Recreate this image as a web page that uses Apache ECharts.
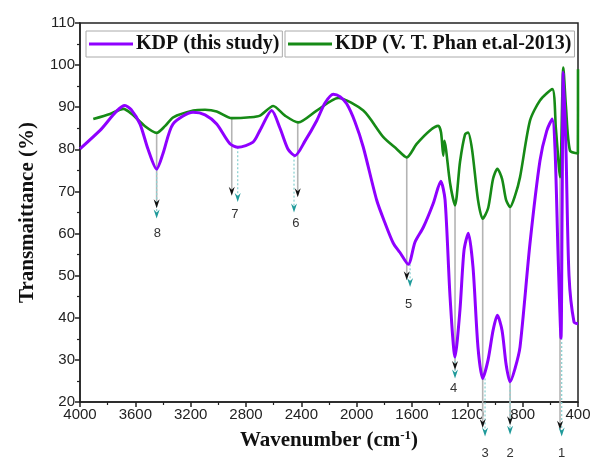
<!DOCTYPE html>
<html>
<head>
<meta charset="utf-8">
<script src="https://cdn.jsdelivr.net/npm/echarts@6/dist/echarts.min.js"></script>
<style>
  html, body { margin: 0; padding: 0; background: #fff; }
  #chart { width: 595px; height: 464px; }
</style>
</head>
<body>
<div id="chart"></div>
<script>
// KDP (this study) - purple
const studyWn = [4000, 3855, 3675, 3631, 3566, 3508, 3446, 3400, 3328, 3183, 3096, 3012, 2916, 2858, 2749, 2699,
  2614, 2554, 2496, 2446, 2373, 2289, 2229, 2169, 2120, 2072, 2012, 1952, 1855, 1795, 1735, 1687, 1627, 1578,
  1518, 1446, 1392, 1361, 1325, 1289, 1253, 1224, 1193, 1159, 1123, 1089, 1050, 1014, 983, 949, 920, 891, 855,
  819, 747, 675, 626, 586, 566, 544, 523, 515, 506, 487, 465, 429, 400];
const studyT = [80.1, 84.5, 90.4, 89.5, 86, 80, 75.3, 79, 86, 88.8, 88.2, 86, 81.3, 80.5, 81.7, 84.5,
  89.2, 85, 80, 78.5, 82, 86.8, 91, 93.1, 92.5, 90.8, 86.5, 80.5, 67.9, 62.5, 57.7, 55.5, 52.7, 58,
  61.5, 67.2, 72.4, 68, 45, 30.7, 42, 56, 60.1, 52, 33, 25.6, 30, 37, 40.6, 37, 29, 24.8, 28,
  33.1, 57.7, 77.3, 84.4, 87.2, 80, 55, 35.2, 65, 98.3, 80, 50, 39, 38.6];

// KDP (V. T. Phan et.al-2013) - green
const phanWn = [3904, 3783, 3687, 3626, 3530, 3446, 3386, 3326, 3181, 3096, 3012, 2903, 2771, 2699, 2603, 2518,
  2422, 2289, 2133, 1952, 1807, 1711, 1638, 1566, 1470, 1410, 1390, 1374, 1366, 1354, 1325, 1289, 1253, 1217,
  1195, 1166, 1123, 1089, 1050, 1014, 983, 949, 920, 891, 855, 819, 747, 675, 586, 560, 530, 506, 487, 458,
  401, 400];
const phanT = [87.2, 88.4, 89.6, 88.4, 85.5, 83.9, 85.5, 87.6, 89.2, 89.4, 89.0, 87.4, 87.6, 88.0, 90.3, 88,
  86.4, 89.2, 92.2, 89.2, 82.9, 80.1, 78.1, 81.3, 84.5, 85.6, 84, 78.5, 82, 80, 72, 66.7, 77, 83.5,
  84, 80, 68, 63.5, 66, 73, 75.4, 73, 68, 66.3, 69, 73.4, 86.8, 91.6, 94.3, 85, 73.4, 99.4, 90, 79.7,
  79, 99];

// peak markers
const peakLabels = ['1', '2', '3', '4', '5', '6', '7', '8'];
const grayWn = [530, 891, 1089, 1289, 1638, 2426, 2903, 3446];
const grayTop = [73.4, 66.3, 63.5, 66.7, 78.1, 86.4, 87.4, 83.9];
const grayEnd = [13.4, 14.5, 13.8, 27.6, 48.9, 68.6, 69, 66];
const cyanWn = [518, 891, 1072, 1289, 1614, 2453, 2860, 3446];
const cyanTop = [35.2, 24.8, 25.6, 30.7, 52.7, 78.5, 80.5, 75.3];
const cyanEnd = [11.8, 12.2, 11.8, 25.6, 47.3, 65, 67.5, 63.6];
const labelWn = [518, 891, 1072, 1300, 1625, 2440, 2880, 3440];
const labelT = [7.7, 7.9, 7.9, 23.2, 43.2, 62.3, 64.5, 60.1];

const chart = echarts.init(document.getElementById('chart'));

function arrow(x, y, color) {
  return {
    type: 'polygon',
    shape: { points: [[x, y], [x - 3, y - 9], [x, y - 6], [x + 3, y - 9]] },
    style: { fill: color }
  };
}

const legendBase = {
  top: 31,
  borderColor: '#aaa', borderWidth: 1, borderRadius: 0,
  padding: [3, 3, 3, 3],
  icon: 'rect',
  itemWidth: 44, itemHeight: 3, itemGap: 0,
  textStyle: { fontFamily: 'Liberation Serif', fontWeight: 'bold', fontSize: 20, color: '#111', padding: [0, 0, 0, -2] }
};

const option = {
  animation: false,
  grid: {
    left: 80, right: 17, top: 23, bottom: 62,
    show: true, borderColor: '#222', borderWidth: 1.5, backgroundColor: 'transparent'
  },
  legend: [
    Object.assign({}, legendBase, { data: ['KDP (this study)'], left: 86 }),
    Object.assign({}, legendBase, { data: ['KDP (V. T. Phan et.al-2013)'], left: 285 })
  ],
  xAxis: {
    type: 'value', inverse: true, min: 400, max: 4000, interval: 400,
    name: 'Wavenumber (cm{sup|-1})', nameLocation: 'middle', nameGap: 27,
    nameTextStyle: {
      fontFamily: 'Liberation Serif', fontWeight: 'bold', fontSize: 21, color: '#111',
      rich: { sup: { fontFamily: 'Liberation Serif', fontWeight: 'bold', fontSize: 13, color: '#111', padding: [0, 0, 10, 0] } }
    },
    axisLine: { lineStyle: { color: '#222', width: 1.5 } },
    axisTick: { length: 5, lineStyle: { color: '#222', width: 1.5 } },
    minorTick: { show: true, splitNumber: 2, length: 3, lineStyle: { color: '#222', width: 1.2 } },
    splitLine: { show: false },
    axisLabel: { fontFamily: 'Liberation Sans', fontSize: 15, color: '#222', margin: 5,
      formatter: v => String(v) }
  },
  yAxis: {
    type: 'value', min: 20, max: 110, interval: 10,
    name: 'Transmaittance (%)', nameLocation: 'middle', nameGap: 42,
    nameTextStyle: { fontFamily: 'Liberation Serif', fontWeight: 'bold', fontSize: 21, color: '#111' },
    axisLine: { show: true, lineStyle: { color: '#222', width: 1.5 } },
    axisTick: { show: true, length: 5, lineStyle: { color: '#222', width: 1.5 } },
    minorTick: { show: true, splitNumber: 2, length: 3, lineStyle: { color: '#222', width: 1.2 } },
    splitLine: { show: false },
    axisLabel: { fontFamily: 'Liberation Sans', fontSize: 15, color: '#222', margin: 5 }
  },
  series: [{
    type: 'custom',
    clip: false,
    z: 1,
    silent: true,
    data: peakLabels.map((l, i) => [i]),
    renderItem: function (params, api) {
      const i = api.value(0);
      const g0 = api.coord([grayWn[i], grayTop[i]]);
      const g1 = api.coord([grayWn[i], grayEnd[i]]);
      const c0 = api.coord([cyanWn[i], cyanTop[i]]);
      const c1 = api.coord([cyanWn[i], cyanEnd[i]]);
      const t = api.coord([labelWn[i], labelT[i]]);
      return {
        type: 'group',
        children: [
          { type: 'line', shape: { x1: g0[0], y1: g0[1], x2: g1[0], y2: g1[1] - 5 },
            style: { stroke: '#b4b4b4', lineWidth: 1.6 } },
          { type: 'line', shape: { x1: c0[0], y1: c0[1], x2: c1[0], y2: c1[1] - 5 },
            style: { stroke: '#8fd3d3', lineWidth: 1.3, lineDash: [2, 2] } },
          arrow(g1[0], g1[1], '#111'),
          arrow(c1[0], c1[1], '#1f9a9a'),
          { type: 'text', x: t[0], y: t[1],
            style: { text: peakLabels[i], fontFamily: 'Liberation Sans', fontSize: 13, fill: '#333',
              align: 'center', verticalAlign: 'middle' } }
        ]
      };
    }
  }, {
    name: 'KDP (V. T. Phan et.al-2013)',
    type: 'line',
    z: 2,
    symbol: 'none',
    smooth: 0.25,
    color: '#168a16',
    lineStyle: { color: '#168a16', width: 2.6 },
    data: phanWn.map((w, i) => [w, phanT[i]])
  }, {
    name: 'KDP (this study)',
    type: 'line',
    z: 3,
    symbol: 'none',
    smooth: 0.25,
    color: '#8f00ff',
    lineStyle: { color: '#8f00ff', width: 3 },
    data: studyWn.map((w, i) => [w, studyT[i]])
  }]
};

chart.setOption(option);
</script>
</body>
</html>
